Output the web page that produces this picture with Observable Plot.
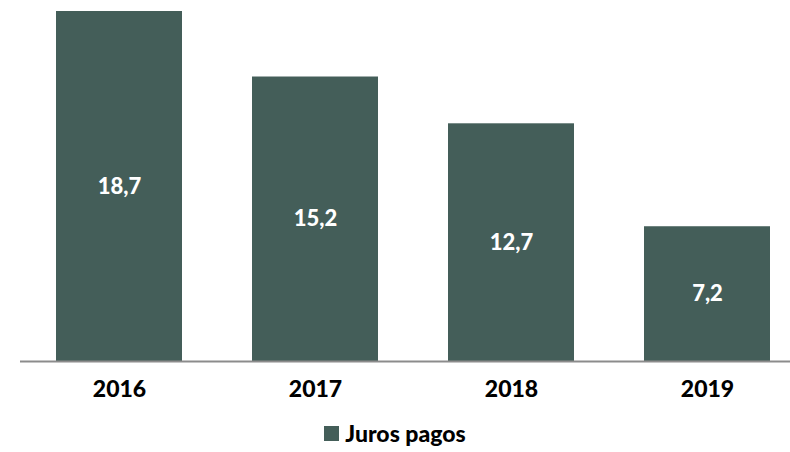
<!DOCTYPE html>
<html>
<head>
<meta charset="utf-8">
<script src="https://cdn.jsdelivr.net/npm/d3@7"></script>
<script src="https://cdn.jsdelivr.net/npm/@observablehq/plot@0.6"></script>
<style>
  html, body { margin: 0; padding: 0; background: #fff; }
  #chart { width: 790px; }
  .legend { display: flex; justify-content: center; align-items: center; height: 40px; font-family: Lato, "Liberation Sans", sans-serif; font-weight: 900; font-size: 23px; color: #000; padding-top: 2px; box-sizing: border-box; }
  .legend .sw { width: 15px; height: 15px; background: #445E59; margin-right: 6px; }
</style>
</head>
<body>
<div id="chart"></div>
<script>
const years = ["2016", "2017", "2018", "2019"];
const values = [18.7, 15.2, 12.7, 7.2];
const seriesName = "Juros pagos";
const barColor = "#445E59";

const data = years.map((y, i) => ({year: y, value: values[i]}));
const fmt = v => v.toFixed(1).replace(".", ",");

const plot = Plot.plot({
  width: 790,
  height: 412,
  marginTop: 11,
  marginBottom: 51,
  marginLeft: 20,
  marginRight: 0,
  style: {fontFamily: "Lato, 'Liberation Sans', sans-serif", background: "#fff"},
  x: {domain: years, range: [55, 770], paddingInner: 0.358, paddingOuter: 0, label: null},
  y: {domain: [0, 18.7], axis: null},
  marks: [
    Plot.barY(data, {x: "year", y: "value", fill: barColor}),
    Plot.ruleY([0], {stroke: "#8c8c8c", strokeWidth: 2}),
    Plot.text(data, {x: "year", y: d => d.value / 2, text: d => fmt(d.value), fill: "#fff", fontSize: 22, fontWeight: 900}),
    Plot.axisX({tickSize: 0, tickPadding: 19, fontSize: 23, fontWeight: 900, label: null, color: "#000"})
  ]
});
document.getElementById("chart").appendChild(plot);

const leg = document.createElement("div");
leg.className = "legend";
leg.innerHTML = `<span class="sw"></span><span>${seriesName}</span>`;
document.getElementById("chart").appendChild(leg);
</script>
</body>
</html>
